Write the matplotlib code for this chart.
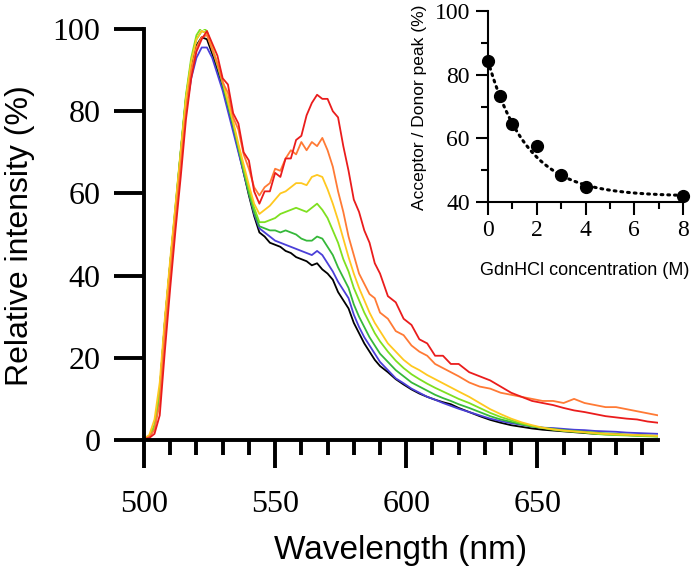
import matplotlib
matplotlib.use("Agg")
import matplotlib.pyplot as plt
import numpy as np

# ---------------- data ----------------
wavelength = [500, 502, 504, 506, 508, 510, 512, 514, 516, 518, 520, 522, 524, 526, 528, 530,
              532, 534, 536, 538, 540, 542, 544, 546, 548, 550, 552, 554, 556, 558, 560, 562,
              564, 566, 568, 570, 572, 574, 576, 578, 580, 582, 584, 586, 588, 590,
              593, 596, 599, 602, 605, 608, 611, 614, 617, 620,
              624, 628, 632, 636, 640, 644, 648, 652, 656, 660, 664, 668, 672, 676, 680, 684,
              688, 692, 696]

black = [0.3, 0.8, 3, 12, 29, 43, 56, 70, 83, 91, 96, 98, 97.5, 94, 90, 86,
         81, 76, 70.5, 65, 59.5, 54.5, 50.5, 49.5, 48, 47.5, 47, 46, 45.5, 44.5, 44, 43.5,
         42.5, 43, 41.5, 40.5, 39, 36, 34, 32, 28.5, 26, 23.5, 21.5, 19.5, 18,
         16.5, 14.8, 13.5, 12.3, 11.3, 10.5, 9.8, 9.2, 8.7, 7.8,
         6.8, 5.8, 4.9, 4.2, 3.6, 3.2, 2.8, 2.5, 2.3, 2.1, 1.9, 1.7, 1.5, 1.4, 1.3, 1.2,
         1.1, 1.0, 0.9]

blue = [0.3, 0.8, 3, 11, 27, 41, 54, 67, 80, 88, 93, 95.5, 95.5, 93, 89, 85,
        80, 75, 70, 65, 60, 55, 51.5, 50.5, 49.5, 48.5, 48, 47.5, 47, 46.5, 46, 45.5,
        45, 46, 45, 43, 41, 38.5, 36.5, 34.5, 30.5, 27.5, 25, 23, 21, 19,
        17, 15, 13.8, 12.5, 11.5, 10.5, 9.8, 9, 8.3, 7.6,
        6.8, 6, 5.2, 4.6, 4.1, 3.7, 3.3, 3, 2.9, 2.7, 2.5, 2.4, 2.2, 2.1, 2, 1.8,
        1.7, 1.6, 1.5]

dgreen = [0.3, 0.8, 3.5, 12, 29, 43, 56.5, 70, 83.5, 92, 97.5, 99.5, 99, 95, 91, 86.5,
          81.5, 76.5, 71, 65.5, 60, 55.5, 52, 51.5, 51, 51, 50.5, 51, 50.5, 50, 49, 48.5,
          48.5, 49.5, 49, 47, 45, 42, 39.5, 37, 33, 30, 27.5, 25, 23, 21,
          19, 17, 15.5, 14, 13, 12, 11, 10.2, 9.5, 8.7,
          7.8, 6.8, 5.8, 5, 4.4, 3.8, 3.3, 3, 2.7, 2.4, 2.2, 2, 1.8, 1.6, 1.5, 1.3,
          1.2, 1.1, 1.0]

lgreen = [0.3, 0.8, 3.5, 12, 29, 43, 57, 70.5, 84, 93, 98.5, 100.5, 99.5, 95.5, 91.5, 87,
          82, 77, 71.5, 66, 61, 56.5, 53, 53, 53.5, 54, 55, 55.5, 56, 56.5, 56, 55.5,
          56.5, 57.5, 56, 54, 51, 48, 44, 41, 37, 34, 31, 28.5, 26, 24,
          21.5, 19.3, 17.5, 16, 14.8, 13.7, 12.7, 11.8, 10.9, 10,
          9, 7.8, 6.6, 5.6, 4.8, 4, 3.4, 2.9, 2.5, 2.2, 2, 1.8, 1.5, 1.3, 1.2, 1.1,
          1.0, 0.9, 0.8]

yellow = [0.4, 1.2, 5, 14, 30, 44, 57, 70, 83, 92, 97.5, 99.5, 99, 95.5, 91.5, 87.5,
          82.5, 77.5, 72, 67, 62, 57.5, 55, 56, 57, 58.5, 60, 60.5, 61.5, 62.5, 62.5, 62,
          64, 64.5, 64, 61, 57.5, 53.5, 49, 44.5, 40.5, 37, 34, 31, 28.5, 26.5,
          23.5, 21.5, 19.5, 18, 17, 15.8, 14.8, 13.8, 12.8, 11.8,
          10.5, 9, 7.5, 6.3, 5.2, 4.3, 3.6, 3, 2.6, 2.3, 2.1, 1.9, 1.7, 1.5, 1.4, 1.3,
          1.2, 1.1, 1.0]

orange = [0.3, 0.7, 2.5, 9, 26, 40, 54, 67, 80, 90, 95.5, 98, 98.5, 95, 91.5, 87,
          84.5, 78.5, 75.5, 69.5, 66, 61.5, 59.5, 61.5, 62.5, 66, 65.5, 68.5, 70.5, 69.5, 72.5, 70.5,
          72.5, 71.5, 73.5, 70.5, 66.5, 60.5, 55.5, 49.5, 45, 40.5, 38, 35.5, 34.5, 31,
          29.5, 26.5, 25.5, 23, 21.5, 20.5, 18.5, 17.5, 16.5, 15.5,
          14, 13, 12.5, 11.5, 11, 10.5, 10, 9.5, 9.5, 9, 10, 9, 8.5, 8, 8, 7.5,
          7, 6.5, 6]

red = [0.2, 0.5, 1.5, 6, 22, 37, 51, 64, 78, 88, 94.5, 97.5, 99.5, 96.5, 93.5, 88,
       86.5, 79.5, 77, 70, 68, 60.5, 57.5, 60.5, 60.5, 65, 64, 68.5, 68.5, 73, 74, 79,
       82, 84, 83, 83, 80, 78.5, 71.5, 65.5, 58.5, 55.5, 51, 48, 43, 40.5,
       35, 33.5, 29.5, 28, 24.5, 23.5, 20.5, 20.5, 18.5, 18.5,
       16.5, 15.5, 14.5, 13, 11.5, 10.5, 9.5, 9, 8.5, 7.8, 7.2, 6.8, 6.3, 5.8, 5.5, 5.2,
       5.0, 4.5, 4.2]

series = [black, blue, dgreen, lgreen, yellow, orange, red]
colors = ["#000000", "#4a3fd8", "#35b83a", "#7fe020", "#ffc820", "#ff7a35", "#ea1c1c"]

# inset data
gdn_conc = [0, 0.5, 1, 2, 3, 4, 8]
ratio = [84.3, 73.3, 64.5, 57.7, 48.6, 44.8, 41.9]
fit_offset, fit_amp, fit_rate = 41.8, 42.5, 0.62

# ---------------- figure ----------------
W, H = 695, 581
fig = plt.figure(figsize=(W / 100, H / 100), dpi=100)

serif = "Liberation Serif"
sans = "Liberation Sans"

L, R, T, B = 144, 658, 29, 440
ax = fig.add_axes([L / W, 1 - B / H, (R - L) / W, (B - T) / H])
for s, c in zip(series, colors):
    ax.plot(wavelength, s, color=c, lw=1.3)

ax.set_xlim(500, 696)
ax.set_ylim(0, 100)
for sp in ["top", "right"]:
    ax.spines[sp].set_visible(False)
for sp in ["left", "bottom"]:
    ax.spines[sp].set_linewidth(2.8)
ax.set_xticks([500, 550, 600, 650])
ax.set_xticks(list(range(510, 700, 10)), minor=True)
ax.set_yticks([0, 20, 40, 60, 80, 100])
ax.tick_params(axis="x", which="major", direction="out", length=20, width=2.8, pad=16)
ax.tick_params(axis="x", which="minor", direction="out", length=10.5, width=2.8)
ax.tick_params(axis="y", which="major", direction="out", length=21.5, width=2.8, pad=10)
for lab in ax.get_xticklabels() + ax.get_yticklabels():
    lab.set_fontfamily(serif)
    lab.set_fontsize(23)
ax.set_xlabel("Wavelength (nm)", fontfamily=sans, fontsize=24)
ax.set_ylabel("Relative intensity (%)", fontfamily=sans, fontsize=23)
ax.xaxis.set_label_coords((401 - L) / (R - L), -(535 - B) / (B - T))
ax.yaxis.set_label_coords(-(L - 35) / (R - L), (B - 236) / (B - T))

# inset
iL, iR, iT, iB = 488, 683, 11, 202
ax2 = fig.add_axes([iL / W, 1 - iB / H, (iR - iL) / W, (iB - iT) / H])
xf = np.linspace(0, 8, 200)
ax2.plot(xf, fit_offset + fit_amp * np.exp(-fit_rate * xf), color="black", lw=2.2,
         linestyle=(0, (0.6, 1.6)), dash_capstyle="round")
ax2.plot(gdn_conc, ratio, "o", color="black", ms=8.5, clip_on=False)
ax2.set_xlim(0, 8)
ax2.set_ylim(40, 100)
for sp in ["top", "right"]:
    ax2.spines[sp].set_visible(False)
for sp in ["left", "bottom"]:
    ax2.spines[sp].set_linewidth(1.5)
ax2.set_xticks([0, 2, 4, 6, 8])
ax2.set_xticks([1, 3, 5, 7], minor=True)
ax2.set_yticks([40, 60, 80, 100])
ax2.set_yticks([50, 70, 90], minor=True)
ax2.tick_params(which="major", direction="out", length=9, width=1.5, pad=4)
ax2.tick_params(which="minor", direction="out", length=5, width=1.5)
for lab in ax2.get_xticklabels() + ax2.get_yticklabels():
    lab.set_fontfamily(serif)
    lab.set_fontsize(17)
ax2.set_xlabel("GdnHCl concentration (M)", fontfamily=sans, fontsize=13)
ax2.set_ylabel("Acceptor / Donor peak (%)", fontfamily=sans, fontsize=12.5)
ax2.xaxis.set_label_coords((585 - iL) / (iR - iL), -(262 - iB) / (iB - iT))
ax2.yaxis.set_label_coords(-(iL - 427) / (iR - iL), (iB - 107) / (iB - iT))

fig.savefig("out.png", dpi=100, facecolor="white")
